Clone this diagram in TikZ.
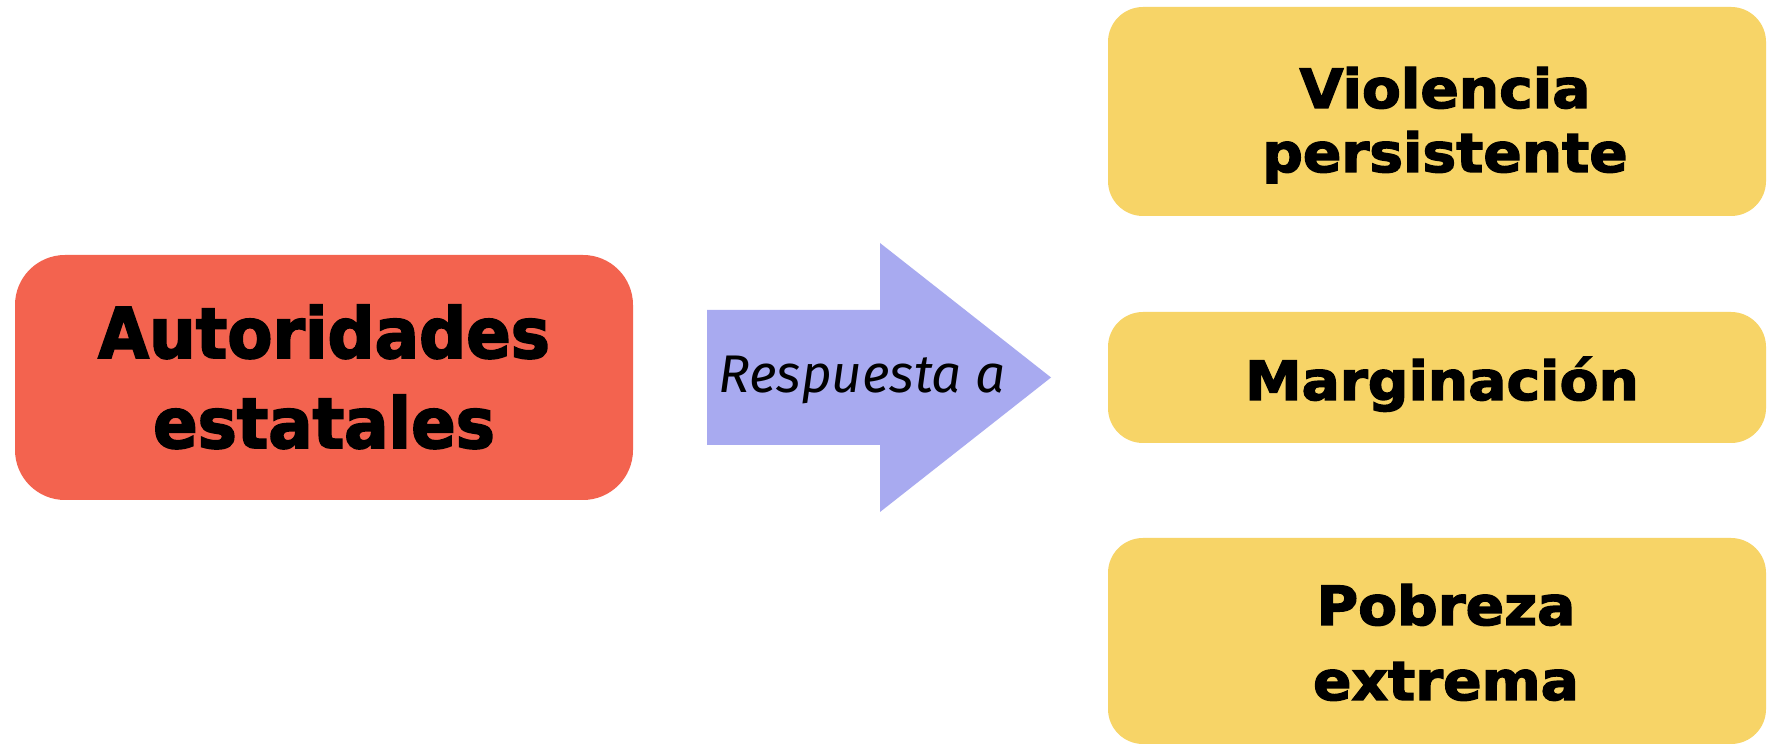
\documentclass[tikz,border=0pt]{standalone}
\usepackage{fontspec}
\usetikzlibrary{calc}
\newfontfamily\redfont{DejaVu Sans}[FakeStretch=0.94, BoldFeatures={FakeBold=2.5}]
\newfontfamily\yelfont{DejaVu Sans}[FakeStretch=1.05, BoldFeatures={FakeBold=2.5}]
\newfontfamily\respfont{Fira Sans}
\definecolor{redc}{HTML}{F3634F}
\definecolor{yelc}{HTML}{F7D467}
\definecolor{lavc}{HTML}{A8AAF0}
\tikzset{
  redbox/.style={fill=redc, rounded corners=50pt, inner sep=0pt, outer sep=0pt,
    minimum width=618pt, minimum height=245pt},
  yelbox/.style={fill=yelc, rounded corners=35pt, inner sep=0pt, outer sep=0pt,
    minimum width=658pt},
  redtxt/.style={inner sep=0pt, anchor=base, font=\redfont\bfseries\fontsize{70}{84}\selectfont},
  yeltxt/.style={inner sep=0pt, anchor=base, font=\yelfont\bfseries\fontsize{54}{64}\selectfont},
  resptxt/.style={inner sep=0pt, anchor=base, font=\respfont\itshape\fontsize{53}{64}\selectfont},
  bigarrow/.style={fill=lavc}
}
\begin{document}
\begin{tikzpicture}[x=1pt,y=1pt]
\useasboundingbox (0,0) rectangle (1768,746);
\fill[white] (0,0) rectangle (1768,746);

% left box
\node[redbox] (auth) at (324,368.5) {};
\node[redtxt] (authA) at (324,388) {Autoridades};
\node[redtxt] (authB) at (324,298) {estatales};

% right boxes
\node[yelbox, minimum height=209pt] (viol) at (1437,634.5) {};
\node[yelbox, minimum height=131pt] (marg) at (1437,368.5) {};
\node[yelbox, minimum height=206pt] (pobr) at (1437,105) {};
\node[yeltxt] (violA) at (1445,638) {Violencia};
\node[yeltxt] (violB) at (1445,574) {persistente};
\node[yeltxt] (margA) at (1442,346) {Marginación};
\node[yeltxt] (pobrA) at (1446,121) {Pobreza};
\node[yeltxt] (pobrB) at (1446,46) {extrema};

% arrow
\coordinate (s) at ($(auth.east)+(74,0)$);
\coordinate (t) at ($(marg.west)+(-57,0)$);
\fill[bigarrow] ($(s)+(0,-67.5)$) -- ($(s)+(173,-67.5)$) -- ($(s)+(173,-134.5)$)
  -- (t) -- ($(s)+(173,134.5)$) -- ($(s)+(173,67.5)$) -- ($(s)+(0,67.5)$) -- cycle;
\node[resptxt] (resp) at (862,353) {Respuesta a};
\end{tikzpicture}
\end{document}
